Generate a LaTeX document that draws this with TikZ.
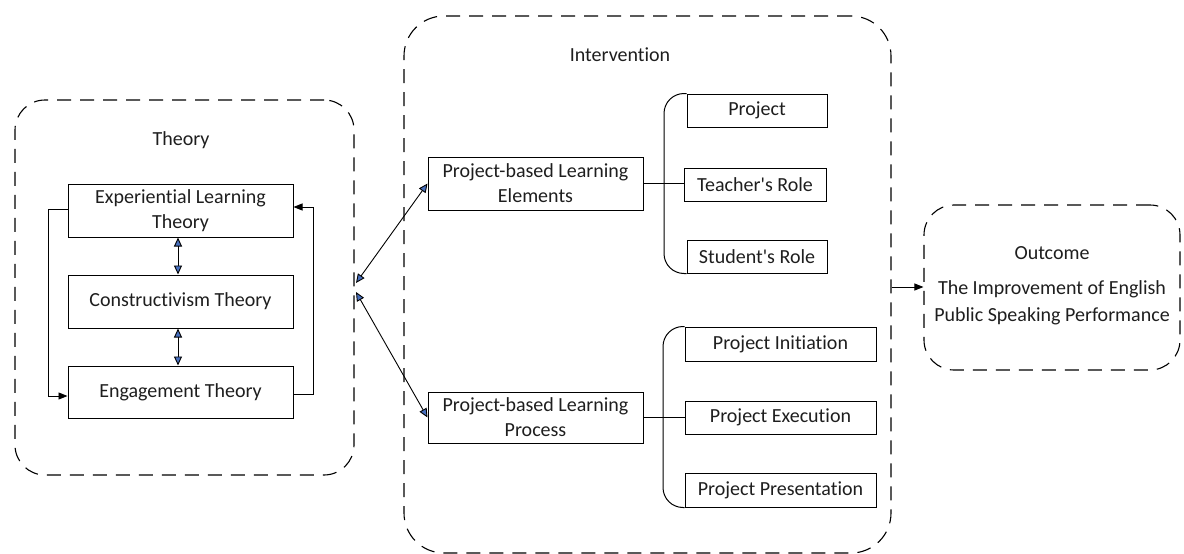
\documentclass[tikz,border=0pt]{standalone}
\usepackage{fontspec}
\setmainfont{Carlito}[Ligatures=NoCommon]
\usetikzlibrary{arrows.meta}
\definecolor{tipblue}{RGB}{72,112,190}
\definecolor{txt}{RGB}{30,30,30}
\tikzset{
  dashbox/.style={draw, line width=1.1pt, dash pattern=on 14pt off 9pt, inner sep=0pt},
  solidbox/.style={draw, line width=1pt, inner sep=0pt, align=center, text=txt,
     font=\fontsize{20}{25}\selectfont},
  lbl/.style={inner sep=0pt, align=center, text=txt, font=\fontsize{20}{27}\selectfont},
  conn/.style={line width=0.9pt},
  bluetips/.style={{Triangle[length=9pt,width=8pt,fill=tipblue]}-{Triangle[length=9pt,width=8pt,fill=tipblue]}},
  blacktip/.style={-{Triangle[length=9pt,width=7pt]}},
  brack/.style={line width=1pt, rounded corners=20pt}
}
\begin{document}
\begin{tikzpicture}[x=1pt,y=-1pt]
\useasboundingbox (0,0) rectangle (1184,554);
% dashed containers
\node[dashbox, rounded corners=30pt, minimum width=339pt, minimum height=375pt] (theorybox) at (184.5,287.5) {};
\node[dashbox, rounded corners=40pt, minimum width=487pt, minimum height=537pt] (intbox) at (647.5,284.5) {};
\node[dashbox, rounded corners=30pt, minimum width=256pt, minimum height=165pt] (outbox) at (1052,287.5) {};
% labels
\node[lbl] (theorylbl) at (181,140) {Theory};
\node[lbl] (intlbl) at (620,55) {Intervention};
\node[lbl] (outlbl) at (1052,253) {Outcome};
\node[lbl] (outtxt) at (1052,302.5) {The Improvement of English\\Public Speaking Performance};
% theory boxes
\node[solidbox, minimum width=225pt, minimum height=53pt] (exp) at (180.5,210.5) {Experiential Learning\\Theory};
\node[solidbox, minimum width=225pt, minimum height=53pt] (con) at (180.5,301.5) {Constructivism Theory};
\node[solidbox, minimum width=225pt, minimum height=52pt] (eng) at (180.5,392) {Engagement Theory};
\draw[conn, bluetips] (exp.south -| 178,0) -- (con.north -| 178,0);
\draw[conn, bluetips] (con.south -| 178,0) -- (eng.north -| 178,0);
\coordinate (lft) at (48,0);
\coordinate (rgt) at (313,0);
\draw[conn, blacktip] (exp.west |- 0,209) -| (lft |- 0,396) -- (eng.west |- 0,396);
\draw[conn, blacktip] (eng.east |- 0,394) -| (rgt |- 0,207) -- (exp.east |- 0,207);
% intervention boxes
\node[solidbox, minimum width=215pt, minimum height=53pt] (pbe) at (535.5,183.5) {Project-based Learning\\Elements};
\node[solidbox, minimum width=215pt, minimum height=51pt] (pbp) at (535.5,417.5) {Project-based Learning\\Process};
\coordinate (t1) at (356,283);
\coordinate (t2) at (356,292);
\draw[conn, bluetips] (t1) -- (pbe.west);
\draw[conn, bluetips] (t2) -- (pbp.west);
% elements
\node[solidbox, minimum width=140pt, minimum height=33pt] (proj) at (757,110.5) {Project};
\node[solidbox, minimum width=142pt, minimum height=33pt] (teach) at (755,184.5) {Teacher\textquotesingle s Role};
\node[solidbox, minimum width=140pt, minimum height=33pt] (stud) at (757,256.5) {Student\textquotesingle s Role};
\coordinate (b1) at (664,0);
\draw[brack] (proj.north west) -| (b1 |- stud.south) -- (stud.south west);
\draw[line width=1pt] (pbe.east) -- (teach.west |- pbe.east);
% process
\node[solidbox, minimum width=191pt, minimum height=34pt] (init) at (780.5,344) {Project Initiation};
\node[solidbox, minimum width=191pt, minimum height=33pt] (exec) at (780.5,417.5) {Project Execution};
\node[solidbox, minimum width=191pt, minimum height=34pt] (pres) at (780.5,490) {Project Presentation};
\coordinate (b2) at (663,0);
\draw[brack] (init.north west) -| (b2 |- pres.south) -- (pres.south west);
\draw[line width=1pt] (pbp.east) -- (exec.west);
% outcome arrow
\draw[conn, blacktip] (intbox.east |- 0,287) -- (outbox.west |- 0,287);
\end{tikzpicture}
\end{document}
